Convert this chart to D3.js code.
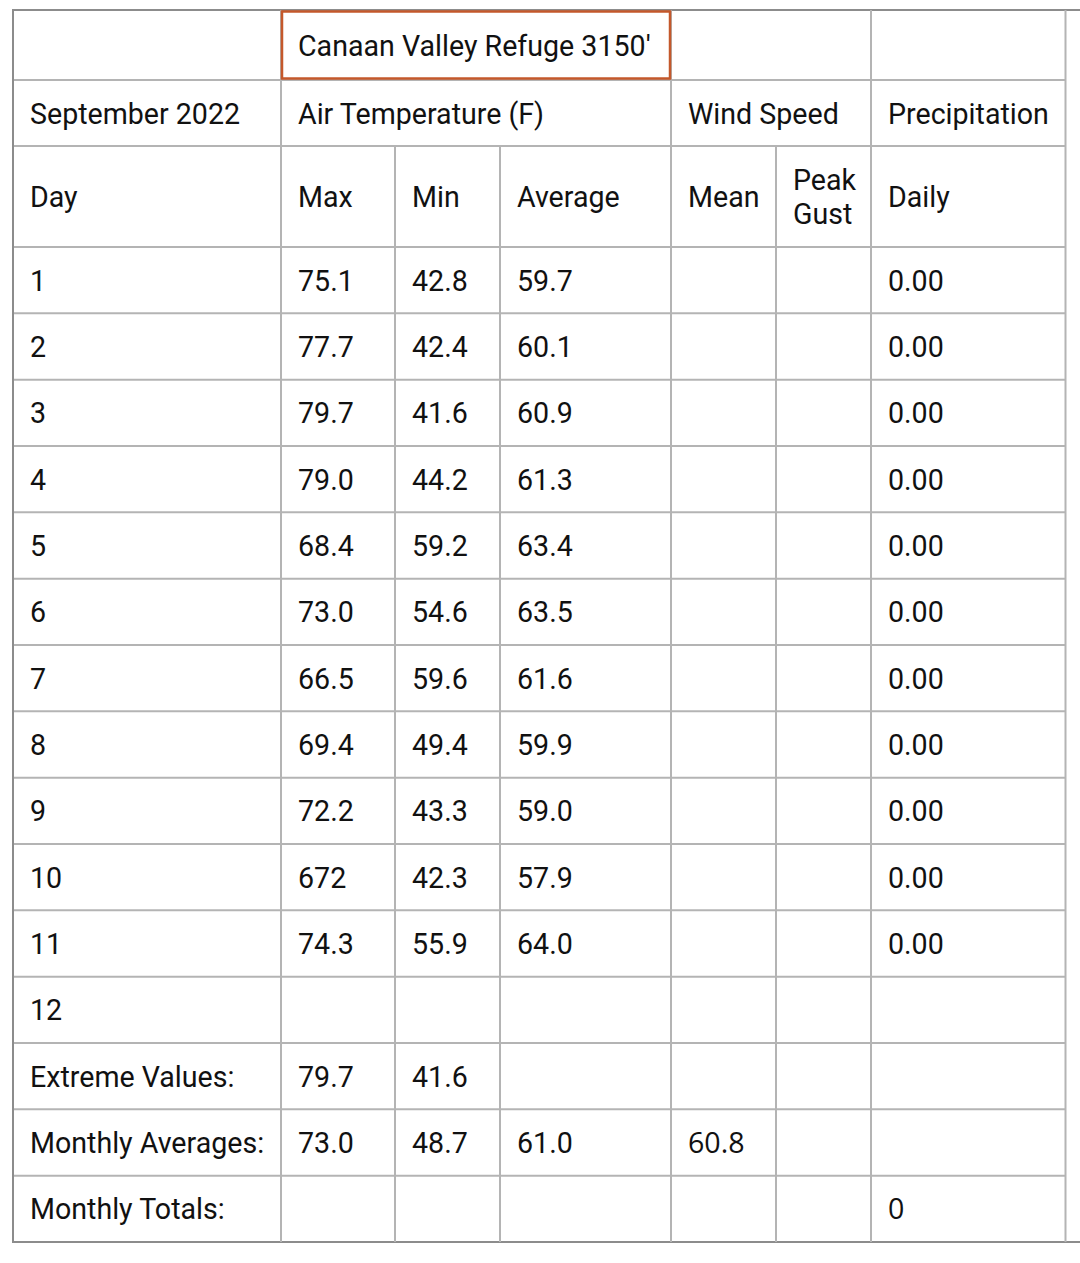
<!DOCTYPE html>
<html><head><meta charset="utf-8">
<script src="https://cdn.jsdelivr.net/npm/d3@7"></script>
<style>
html,body{margin:0;padding:0;background:#fff;overflow:hidden;width:1080px;height:1263px;}
svg{display:block;}
</style></head>
<body>
<script>
// ---- data ----
const stationTitle = "Canaan Valley Refuge 3150'";
const monthLabel = "September 2022";
const groupHeaders = ["Air Temperature (F)", "Wind Speed", "Precipitation"];
const subHeaders = ["Day", "Max", "Min", "Average", "Mean", "Peak\nGust", "Daily"];
const days = ["1","2","3","4","5","6","7","8","9","10","11","12"];
const maxTemp = ["75.1","77.7","79.7","79.0","68.4","73.0","66.5","69.4","72.2","672","74.3",""];
const minTemp = ["42.8","42.4","41.6","44.2","59.2","54.6","59.6","49.4","43.3","42.3","55.9",""];
const avgTemp = ["59.7","60.1","60.9","61.3","63.4","63.5","61.6","59.9","59.0","57.9","64.0",""];
const windMean = ["","","","","","","","","","","",""];
const peakGust = ["","","","","","","","","","","",""];
const precipDaily = ["0.00","0.00","0.00","0.00","0.00","0.00","0.00","0.00","0.00","0.00","0.00",""];
const summaryLabels = ["Extreme Values:", "Monthly Averages:", "Monthly Totals:"];
const summaryValues = [
  ["79.7","41.6","","","",""],
  ["73.0","48.7","61.0","60.8","",""],
  ["","","","","","0"]
];

// ---- layout ----
const W = 1080, H = 1263;
const colEdges = [12, 281, 395, 500, 671, 776, 871, 1065];
const headerEdges = [10, 80, 146, 247];
const bodyTop = 247, bodyBottom = 1242;
const nBody = days.length + summaryLabels.length;
const FONT = "Roboto, 'Noto Sans', sans-serif";
const ALT = "'Open Sans', 'Noto Sans', sans-serif";
const fs = 28.6;

const svg = d3.select("body").append("svg").attr("width", W).attr("height", H);
svg.append("rect").attr("width", W).attr("height", H).attr("fill", "#fff");

const y = d3.scaleBand().domain(d3.range(nBody)).range([bodyTop, bodyBottom]).paddingInner(0).paddingOuter(0);

const rowLines = headerEdges.concat(d3.range(nBody + 1).map(i => bodyTop + i * y.step()));

const gridColor = "#b4b4b4";
const g = svg.append("g");

rowLines.forEach((ry, i) => {
  const outer = (i === 0 || i === rowLines.length - 1);
  g.append("line").attr("x1", 12).attr("x2", outer ? W : 1066)
    .attr("y1", ry).attr("y2", ry)
    .attr("stroke", outer ? "#8c8c8c" : gridColor).attr("stroke-width", 2);
});

function vline(x, y1, y2, color) {
  g.append("line").attr("x1", x).attr("x2", x).attr("y1", y1).attr("y2", y2)
    .attr("stroke", color || gridColor).attr("stroke-width", 2);
}
vline(13, 10, 1242, "#8c8c8c");
vline(281, 10, 1242);
vline(671, 10, 1242);
vline(871, 10, 1242);
vline(1065.5, 10, 1242);
vline(395, 146, 1242);
vline(500, 146, 1242);
vline(776, 146, 1242);

svg.append("rect").attr("x", 282).attr("y", 11.5).attr("width", 388).attr("height", 67)
  .attr("fill", "none").attr("stroke", "#c4582b").attr("stroke-width", 2.5);

function txt(x, yc, s, font, pad) {
  if (!s) return;
  const p = pad === undefined ? (x === 12 ? 18 : 17) : pad;
  const lines = s.split("\n");
  const lh = 34;
  lines.forEach((ln, k) => {
    svg.append("text").attr("x", x + p).attr("y", yc + 10.5 + (k - (lines.length - 1) / 2) * lh)
      .attr("font-family", font || FONT).attr("font-size", fs).attr("fill", "#111").text(ln);
  });
}

txt(281, 45, stationTitle);
const h2c = (headerEdges[1] + headerEdges[2]) / 2;
txt(12, h2c, monthLabel);
txt(281, h2c, groupHeaders[0]);
txt(671, h2c, groupHeaders[1]);
txt(871, h2c, groupHeaders[2]);
const h3c = (headerEdges[2] + headerEdges[3]) / 2;
subHeaders.forEach((s, i) => txt(colEdges[i], h3c, s));

const dataCols = [maxTemp, minTemp, avgTemp, windMean, peakGust, precipDaily];
days.forEach((d, r) => {
  const yc = y(r) + y.bandwidth() / 2;
  txt(colEdges[0], yc, d);
  dataCols.forEach((arr, c) => txt(colEdges[c + 1], yc, arr[r]));
});
summaryLabels.forEach((lab, k) => {
  const r = days.length + k;
  const yc = y(r) + y.bandwidth() / 2;
  txt(colEdges[0], yc, lab);
  summaryValues[k].forEach((v, c) => {
    const alt = (k === 1 && c === 3) || (k === 2 && c === 5);
    txt(colEdges[c + 1], yc, v, alt ? ALT : FONT);
  });
});
</script>
</body></html>
